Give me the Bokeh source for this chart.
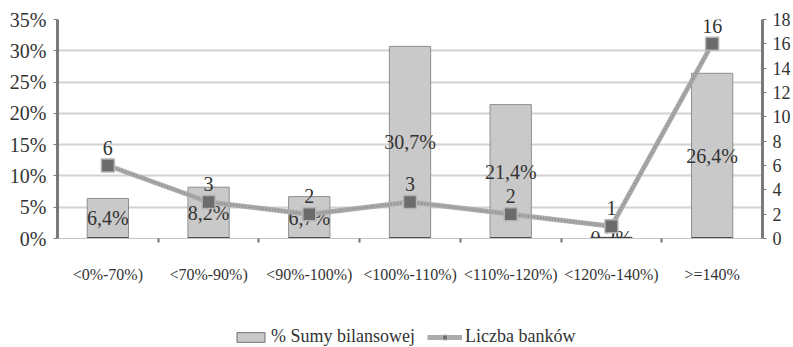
from bokeh.plotting import figure
from bokeh.layouts import column
from bokeh.models import (Range1d, LinearAxis, FixedTicker, ColumnDataSource,
                          Legend, LegendItem)
from bokeh.embed import file_html
from bokeh.resources import INLINE
from bokeh.core.properties import value

categories = ["<0%-70%)", "<70%-90%)", "<90%-100%)", "<100%-110%)",
              "<110%-120%)", "<120%-140%)", ">=140%"]
share_pct = [6.4, 8.2, 6.7, 30.7, 21.4, 0.2, 26.4]   # % Sumy bilansowej
bank_count = [6, 3, 2, 3, 2, 1, 16]                   # Liczba banków
left_ticks = [0, 5, 10, 15, 20, 25, 30, 35]
right_ticks = [0, 2, 4, 6, 8, 10, 12, 14, 16, 18]

FONT = "Liberation Serif"
TXT = "#333333"
BAR_FILL = "#c9c9c9"
BAR_EDGE = "#8f8f8f"
LINE_COL = "#ababab"
MARK_FILL = "#6b6b6b"
AXIS_COL = "#7a7a7a"

xs = [i + 0.5 for i in range(len(categories))]
src = ColumnDataSource(dict(
    x=xs,
    share=[v / 100 for v in share_pct],
    share_mid=[v / 200 for v in share_pct],
    share_lbl=[("%.1f%%" % v).replace(".", ",") for v in share_pct],
    banks=bank_count,
    banks_lbl=[str(v) for v in bank_count],
))

p = figure(width=793, height=310, output_backend="svg", toolbar_location=None,
           x_range=Range1d(0, len(categories)), y_range=Range1d(0, 0.35),
           x_axis_location=None, y_axis_location=None,
           min_border_left=57, min_border_right=31, min_border_top=19,
           min_border_bottom=72, outline_line_color=None,
           background_fill_color="white", border_fill_color="white")
p.extra_y_ranges = {"banks": Range1d(0, 18)}

# grid
p.xgrid.visible = False
p.ygrid.ticker = FixedTicker(ticks=[t / 100 for t in left_ticks])
p.ygrid.grid_line_color = "#d2d2d2"
p.ygrid.grid_line_width = 2

# bottom axis: labels at category centres, ticks between categories
xaxis = LinearAxis(
    ticker=FixedTicker(ticks=xs, minor_ticks=list(range(1, len(categories)))),
    major_label_overrides={x: c for x, c in zip(xs, categories)},
    major_tick_line_color=None, major_tick_out=0, major_tick_in=0,
    minor_tick_out=4, minor_tick_in=0, minor_tick_line_color="#6f6f6f",
    minor_tick_line_width=2,
    axis_line_color="#c4c4c4", axis_line_width=1, major_label_standoff=23,
    major_label_text_font=FONT, major_label_text_font_size="16px",
    major_label_text_color=TXT)
p.add_layout(xaxis, "below")

# left axis (percent)
yleft = LinearAxis(
    ticker=FixedTicker(ticks=[t / 100 for t in left_ticks]),
    major_label_overrides={t / 100: "%d%%" % t for t in left_ticks},
    axis_line_color=AXIS_COL, axis_line_width=3,
    major_tick_line_color=AXIS_COL, major_tick_out=4, major_tick_in=0,
    minor_tick_line_color=None, major_label_standoff=7,
    major_label_text_font=FONT, major_label_text_font_size="20px",
    major_label_text_color=TXT)
p.add_layout(yleft, "left")

# right axis (bank count)
yright = LinearAxis(
    y_range_name="banks", ticker=FixedTicker(ticks=right_ticks),
    axis_line_color=AXIS_COL, axis_line_width=3,
    major_tick_line_color=AXIS_COL, major_tick_out=4, major_tick_in=0,
    minor_tick_line_color=None, major_label_standoff=6,
    major_label_text_font=FONT, major_label_text_font_size="18px",
    major_label_text_color=TXT)
p.add_layout(yright, "right")

# bars with a dark base strip
p.vbar(x="x", top="share", width=0.41, source=src,
       fill_color=BAR_FILL, line_color=BAR_EDGE, line_width=1)
p.vbar(x="x", top=0, width=0.41, source=src, fill_color=None,
       line_color="#505050", line_width=3)
p.text(x="x", y="share_mid", text="share_lbl", source=src,
       text_align="center", text_baseline="middle",
       text_font=value(FONT), text_font_size="20px", text_color=TXT)

# bank count line (light stroke with a darker grain on top)
p.line(x="x", y="banks", source=src, y_range_name="banks",
       line_color=LINE_COL, line_width=5)
p.line(x="x", y="banks", source=src, y_range_name="banks",
       line_color="#8a8a8a", line_width=2, line_dash="1 2")
p.scatter(x="x", y="banks", source=src, y_range_name="banks",
          marker="square", size=13, fill_color=MARK_FILL,
          line_color="#b5b5b5", line_width=1.5)
p.text(x="x", y="banks", text="banks_lbl", source=src, y_range_name="banks",
       text_align="center", text_baseline="bottom", y_offset=-11,
       text_font=value(FONT), text_font_size="20px", text_color=TXT)

# legend strip underneath the chart
lg = figure(width=793, height=37, output_backend="svg", toolbar_location=None,
            x_range=Range1d(0, 1), y_range=Range1d(0, 1),
            x_axis_location=None, y_axis_location=None,
            min_border=0, outline_line_color=None,
            background_fill_color="white", border_fill_color="white")
lg.grid.visible = False
nan = float("nan")
proxy = ColumnDataSource(dict(x=[nan], y=[nan]))
r_bar = lg.vbar(x="x", top="y", width=0.1, source=proxy,
                fill_color=BAR_FILL, line_color="#6f6f6f", line_width=1)
r_line = lg.line(x="x", y="y", source=proxy, line_color=LINE_COL, line_width=5)
r_mark = lg.scatter(x="x", y="y", source=proxy, marker="square", size=11,
                    fill_color=MARK_FILL, line_color="#b5b5b5", line_width=1)
legend = Legend(items=[
    LegendItem(label="% Sumy bilansowej", renderers=[r_bar]),
    LegendItem(label="Liczba banków", renderers=[r_line, r_mark]),
], orientation="horizontal", location=(176, 0),
    label_text_font=FONT, label_text_font_size="18px",
    label_text_color=TXT, glyph_width=35, glyph_height=12,
    label_standoff=3, spacing=12, padding=0, margin=0,
    border_line_color=None, background_fill_alpha=0)
lg.add_layout(legend, "center")

open("out.html", "w").write(file_html(column(p, lg, spacing=0), INLINE))
